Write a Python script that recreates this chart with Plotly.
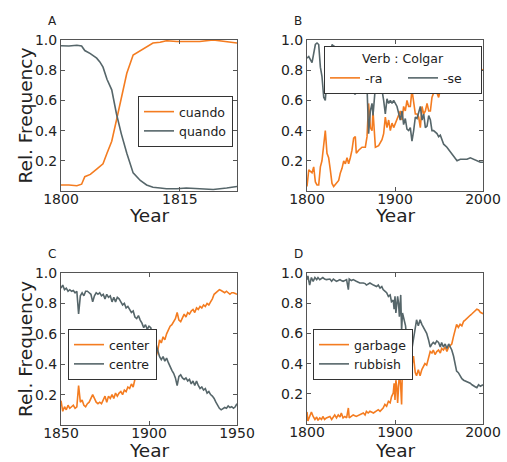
import plotly.graph_objects as go

# ---------------- data ----------------
a_years = [1800, 1801, 1802, 1802.6, 1803, 1803.7, 1804.5, 1804.9, 1805.3, 1805.8,
           1806.4, 1807, 1807.6, 1808.3, 1809.1, 1810, 1810.8, 1811.6, 1812.5, 1813.3,
           1814.6, 1815.8, 1817.5, 1819.2, 1820.9, 1822.2]
cuando = [0.04, 0.04, 0.035, 0.045, 0.095, 0.11, 0.145, 0.16, 0.18, 0.25,
          0.33, 0.47, 0.62, 0.78, 0.90, 0.93, 0.955, 0.98, 0.985, 0.995,
          0.99, 0.99, 0.99, 1.0, 0.99, 0.98]
quando = [0.962, 0.96, 0.965, 0.96, 0.93, 0.91, 0.88, 0.855, 0.82, 0.74,
          0.67, 0.51, 0.38, 0.25, 0.12, 0.07, 0.04, 0.025, 0.02, 0.015,
          0.015, 0.02, 0.015, 0.01, 0.02, 0.03]

b_years = [1800, 1802, 1805.7, 1807.6, 1809.5, 1811.4, 1813.3, 1815.2, 1817, 1819,
           1820.8, 1822.7, 1824.6, 1826.5, 1828.4, 1830.3, 1833.3, 1836, 1837.9, 1839.8,
           1841.7, 1843.6, 1845.5, 1847.3, 1849.2, 1851.1, 1853, 1854.9, 1856, 1858.7,
           1862.5, 1866.3, 1868.2, 1870, 1872, 1873.9, 1875, 1876.5, 1877.7, 1881.4,
           1885.2, 1887.1, 1889, 1890.9, 1892.8, 1894.7, 1896.6, 1898.5, 1902.3, 1906,
           1908, 1909.8, 1911.7, 1913.6, 1915.5, 1917.4, 1919.3, 1921.2, 1923.1, 1925,
           1926.9, 1928.8, 1930.7, 1932.6, 1934.5, 1936.4, 1938.3, 1940.2, 1942, 1943.9,
           1947.7, 1949.6, 1951.5, 1955.3, 1959, 1962.9, 1966.7, 1970.5, 1974.2, 1978,
           1981.8, 1985.6, 1989.4, 1993.2, 1997, 2000]
ra = [0.03, 0.14, 0.12, 0.16, 0.06, 0.04, 0.04, 0.16, 0.20, 0.31,
      0.40, 0.25, 0.22, 0.14, 0.05, 0.03, 0.05, 0.07, 0.12, 0.15,
      0.20, 0.18, 0.22, 0.18, 0.22, 0.27, 0.35, 0.36, 0.25, 0.27,
      0.29, 0.29, 0.36, 0.58, 0.42, 0.40, 0.53, 0.38, 0.29, 0.30,
      0.34, 0.38, 0.49, 0.42, 0.47, 0.40, 0.45, 0.42, 0.47, 0.53,
      0.47, 0.56, 0.53, 0.60, 0.56, 0.56, 0.67, 0.60, 0.51, 0.51,
      0.49, 0.42, 0.56, 0.51, 0.53, 0.58, 0.53, 0.53, 0.62, 0.65,
      0.65, 0.62, 0.67, 0.66, 0.69, 0.70, 0.72, 0.76, 0.77, 0.77,
      0.79, 0.78, 0.79, 0.80, 0.81, 0.80]
se = [0.88, 0.89, 0.85, 0.91, 0.97, 0.98, 0.97, 0.82, 0.76, 0.62,
      0.60, 0.75, 0.78, 0.86, 0.97, 0.96, 0.95, 0.93, 0.88, 0.85,
      0.80, 0.82, 0.78, 0.82, 0.78, 0.73, 0.65, 0.64, 0.75, 0.73,
      0.71, 0.71, 0.69, 0.38, 0.53, 0.58, 0.50, 0.62, 0.69, 0.68,
      0.67, 0.60, 0.51, 0.61, 0.58, 0.60, 0.58, 0.60, 0.56, 0.47,
      0.53, 0.44, 0.48, 0.41, 0.40, 0.42, 0.33, 0.40, 0.49, 0.48,
      0.53, 0.56, 0.47, 0.51, 0.42, 0.43, 0.50, 0.47, 0.40, 0.40,
      0.38, 0.36, 0.37, 0.31, 0.29, 0.26, 0.23, 0.20, 0.21, 0.21,
      0.21, 0.22, 0.21, 0.20, 0.19, 0.19]

c_years = list(range(1850, 1951))
center = [0.16, 0.09, 0.12, 0.10, 0.13, 0.11, 0.12, 0.13, 0.11, 0.12,
          0.26, 0.15, 0.165, 0.13, 0.12, 0.14, 0.15, 0.175, 0.20, 0.175,
          0.15, 0.14, 0.15, 0.14, 0.165, 0.19, 0.15, 0.19, 0.175, 0.20,
          0.175, 0.21, 0.19, 0.21, 0.22, 0.20, 0.23, 0.22, 0.25, 0.24,
          0.27, 0.25, 0.30, 0.32, 0.30, 0.34, 0.36, 0.39, 0.37, 0.36,
          0.35, 0.36, 0.42, 0.46, 0.45, 0.49, 0.56, 0.54, 0.58, 0.56,
          0.60, 0.63, 0.65, 0.66, 0.68, 0.70, 0.74, 0.69, 0.68, 0.71,
          0.73, 0.71, 0.74, 0.73, 0.75, 0.76, 0.74, 0.77, 0.76, 0.78,
          0.77, 0.79, 0.78, 0.80, 0.79, 0.81, 0.83, 0.86, 0.87, 0.88,
          0.89, 0.885, 0.88, 0.87, 0.88, 0.87, 0.86, 0.87, 0.87, 0.865,
          0.86]
centre = [0.90, 0.92, 0.89, 0.90, 0.88, 0.89, 0.88, 0.885, 0.87, 0.88,
          0.73, 0.85, 0.87, 0.85, 0.88, 0.88, 0.87, 0.86, 0.81, 0.85,
          0.87, 0.86, 0.87, 0.85, 0.86, 0.83, 0.86, 0.84, 0.85, 0.81,
          0.84, 0.81, 0.84, 0.83, 0.81, 0.79, 0.80, 0.77, 0.78, 0.76,
          0.74, 0.75, 0.71, 0.70, 0.72, 0.69, 0.67, 0.64, 0.66, 0.63,
          0.65, 0.64, 0.58, 0.54, 0.53, 0.49, 0.45, 0.43, 0.45, 0.42,
          0.44, 0.41, 0.38, 0.36, 0.34, 0.31, 0.26, 0.32, 0.33, 0.31,
          0.30, 0.31, 0.29, 0.30, 0.27, 0.29, 0.26, 0.29, 0.26, 0.24,
          0.25, 0.23, 0.24, 0.21, 0.22, 0.20, 0.19, 0.175, 0.15, 0.13,
          0.11, 0.10, 0.11, 0.115, 0.11, 0.125, 0.115, 0.12, 0.11, 0.12,
          0.14]

d_years = [1800, 1801, 1803, 1805, 1807, 1809, 1811, 1812.5, 1814.5, 1816.5,
           1818, 1820, 1822, 1826, 1828, 1830, 1831.5, 1833.5, 1835.5, 1837.5,
           1839, 1841, 1843, 1845, 1847, 1848, 1850.5, 1852.5, 1856, 1860,
           1864, 1866, 1867.5, 1869.5, 1871.5, 1875.5, 1879, 1881, 1883, 1885,
           1886.5, 1888.5, 1890.5, 1892.5, 1894.5, 1896, 1898, 1899, 1900, 1901,
           1902, 1903, 1904, 1905, 1906.5, 1907.5, 1908.5, 1910, 1912, 1913,
           1915, 1917, 1919, 1921, 1923, 1924.5, 1926.5, 1928.5, 1930.5, 1932.5,
           1934, 1936, 1938, 1940, 1942, 1943.5, 1945.5, 1947.5, 1949.5, 1951.5,
           1953, 1955, 1957, 1959, 1961, 1962.5, 1964.5, 1966.5, 1968.5, 1970,
           1972, 1974, 1976, 1978, 1980, 1981.5, 1983.5, 1985.5, 1987.5, 1989.5,
           1991.5, 1993, 1995, 1997, 2000]
garbage = [0.08, 0.02, 0.05, 0.08, 0.05, 0.03, 0.046, 0.024, 0.04, 0.03,
           0.05, 0.03, 0.04, 0.05, 0.03, 0.05, 0.06, 0.04, 0.06, 0.046,
           0.073, 0.04, 0.05, 0.04, 0.106, 0.04, 0.05, 0.06, 0.05, 0.06,
           0.073, 0.06, 0.084, 0.073, 0.084, 0.073, 0.084, 0.095, 0.084, 0.095,
           0.106, 0.13, 0.117, 0.15, 0.14, 0.18, 0.205, 0.27, 0.16, 0.29,
           0.25, 0.14, 0.23, 0.34, 0.25, 0.13, 0.40, 0.36, 0.45, 0.40,
           0.43, 0.41, 0.38, 0.45, 0.34, 0.32, 0.36, 0.32, 0.36, 0.38,
           0.40, 0.39, 0.44, 0.48, 0.47, 0.49, 0.46, 0.48, 0.49, 0.47,
           0.50, 0.49, 0.51, 0.48, 0.51, 0.52, 0.53, 0.58, 0.62, 0.66,
           0.64, 0.66, 0.65, 0.68, 0.69, 0.70, 0.71, 0.72, 0.73, 0.74,
           0.75, 0.76, 0.755, 0.74, 0.73]
rubbish = [0.956, 0.98, 0.92, 0.97, 0.945, 0.97, 0.956, 0.97, 0.956, 0.965,
           0.97, 0.96, 0.956, 0.96, 0.945, 0.96, 0.955, 0.945, 0.95, 0.956,
           0.95, 0.945, 0.95, 0.956, 0.89, 0.96, 0.95, 0.956, 0.945, 0.934,
           0.934, 0.93, 0.92, 0.93, 0.934, 0.92, 0.91, 0.92, 0.90, 0.91,
           0.89, 0.88, 0.87, 0.845, 0.855, 0.81, 0.82, 0.76, 0.845, 0.735,
           0.79, 0.845, 0.80, 0.71, 0.855, 0.62, 0.735, 0.69, 0.65, 0.58,
           0.56, 0.54, 0.49, 0.56, 0.66, 0.69, 0.65, 0.69, 0.66, 0.64,
           0.62, 0.60, 0.56, 0.51, 0.53, 0.54, 0.53, 0.55, 0.54, 0.51,
           0.54, 0.51, 0.53, 0.50, 0.53, 0.51, 0.49, 0.45, 0.40, 0.35,
           0.34, 0.32, 0.30, 0.29, 0.285, 0.28, 0.275, 0.27, 0.26, 0.25,
           0.245, 0.24, 0.26, 0.25, 0.26]

y_ticks = [0.2, 0.4, 0.6, 0.8, 1.0]
a_xticks = [1800, 1815]
b_xticks = [1800, 1900, 2000]
c_xticks = [1850, 1900, 1950]
d_xticks = [1800, 1900, 2000]

# ---------------- style ----------------
W, H = 507, 462
ORANGE = "#f47c20"
GRAY = "#56666a"
FRAME = "#555555"
FONT = "DejaVu Sans"
LW = 1.6


def px_x(p):
    return p / W


def px_y(p):
    return 1 - p / H


fig = go.Figure()

panels = [
    ("x", "y", "legend", a_years, [("cuando", cuando, ORANGE), ("quando", quando, GRAY)],
     [1800, 1822.2], a_xticks),
    ("x2", "y2", "legend2", b_years, [("-ra", ra, ORANGE), ("-se", se, GRAY)],
     [1800, 2000], b_xticks),
    ("x3", "y3", "legend3", c_years, [("center", center, ORANGE), ("centre", centre, GRAY)],
     [1850, 1950], c_xticks),
    ("x4", "y4", "legend4", d_years, [("garbage", garbage, ORANGE), ("rubbish", rubbish, GRAY)],
     [1800, 2000], d_xticks),
]

for xa, ya, lg, xs, series, _, _ in panels:
    for name, vals, col in series:
        fig.add_trace(go.Scatter(x=xs, y=vals, mode="lines", name=name,
                                 line=dict(color=col, width=LW),
                                 xaxis=xa, yaxis=ya, legend=lg))

boxes = [(61, 237, 40, 191), (307, 483, 40, 191), (61, 237, 273, 425), (307, 483, 273, 424)]

axis_common = dict(showline=True, linecolor=FRAME, linewidth=1, mirror="ticks",
                   ticks="inside", ticklen=4, tickwidth=1, tickcolor=FRAME,
                   showgrid=False, zeroline=False, automargin=False,
                   tickfont=dict(family=FONT, size=14, color="#222222"))

layout = {}
for i, ((xa, ya, lg, xs, series, xr, xt), (l, r, t, b)) in enumerate(zip(panels, boxes)):
    suffix = "" if i == 0 else str(i + 1)
    layout["xaxis" + suffix] = dict(domain=[px_x(l), px_x(r)], range=xr, tickvals=xt,
                                    anchor="y" + suffix, ticklabelstandoff=-5, **axis_common)
    layout["yaxis" + suffix] = dict(domain=[px_y(b), px_y(t)], range=[0, 1], tickvals=y_ticks,
                                    tickformat=".1f", anchor="x" + suffix, **axis_common)

legend_common = dict(bgcolor="white", bordercolor="#333333", borderwidth=1,
                     font=dict(family=FONT, size=12.5, color="#222222"),
                     xanchor="left", yanchor="top", tracegroupgap=0)
layout["legend"] = dict(x=px_x(138), y=px_y(96), **legend_common)
layout["legend2"] = dict(x=px_x(324), y=px_y(46), orientation="h", entrywidth=33,
                         entrywidthmode="pixels",
                         title=dict(text="Verb : Colgar", side="top center",
                                    font=dict(family=FONT, size=12.5, color="#222222")),
                         **legend_common)
layout["legend3"] = dict(x=px_x(68), y=px_y(329), **legend_common)
layout["legend4"] = dict(x=px_x(313), y=px_y(329), **legend_common)

annotations = []
title_font = dict(family=FONT, size=18.5, color="#222222")
for (l, r, t, b), letter, ytitle in zip(boxes, ["A", "B", "C", "D"], [216, 216, 450, 450]):
    annotations.append(dict(text="Year", x=px_x((l + r) / 2), y=px_y(ytitle), xref="paper",
                            yref="paper", showarrow=False, font=title_font,
                            xanchor="center", yanchor="middle"))
    annotations.append(dict(text=letter, x=px_x(l - 9), y=px_y(t - 19), xref="paper",
                            yref="paper", showarrow=False,
                            font=dict(family=FONT, size=12, color="#222222"),
                            xanchor="center", yanchor="middle"))
for (l, r, t, b) in [boxes[0], boxes[2]]:
    annotations.append(dict(text="Rel. Frequency", x=px_x(25), y=px_y((t + b) / 2),
                            xref="paper", yref="paper", showarrow=False, textangle=-90,
                            font=title_font, xanchor="center", yanchor="middle"))

fig.update_layout(width=W, height=H, margin=dict(l=0, r=0, t=0, b=0, pad=0, autoexpand=False),
                  paper_bgcolor="white", plot_bgcolor="white", annotations=annotations,
                  **layout)

fig.write_html("out.html")
